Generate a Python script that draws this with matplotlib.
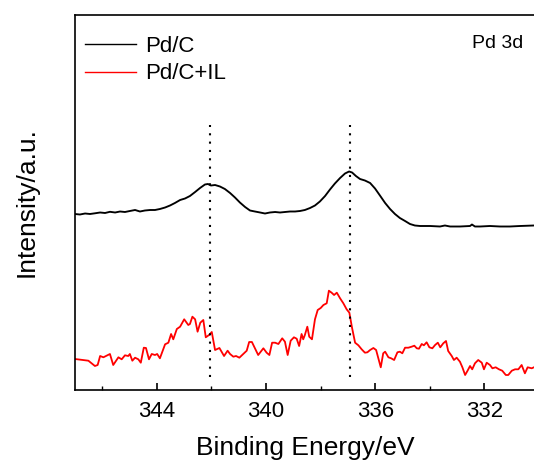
import matplotlib
matplotlib.use("Agg")
import matplotlib.pyplot as plt
from matplotlib.ticker import FixedLocator

plt.rcParams['font.family'] = ['Liberation Sans', 'DejaVu Sans']

# Pd/C spectrum (binding energy in eV, intensity a.u.)
pdc_energy = [347.00, 346.82, 346.63, 346.45, 346.27, 346.08, 345.90, 345.72, 345.53, 345.35,
              345.17, 344.99, 344.80, 344.62, 344.44, 344.25, 344.07, 343.89, 343.70, 343.52,
              343.34, 343.15, 342.97, 342.79, 342.60, 342.42, 342.24, 342.13, 342.02, 341.87,
              341.69, 341.51, 341.32, 341.14, 340.96, 340.77, 340.59, 340.41, 340.22, 340.04,
              339.86, 339.67, 339.49, 339.31, 339.12, 338.94, 338.76, 338.58, 338.39, 338.21,
              338.03, 337.84, 337.66, 337.48, 337.29, 337.11, 336.96, 336.85, 336.71, 336.56,
              336.38, 336.19, 336.01, 335.83, 335.64, 335.46, 335.28, 335.10, 334.91, 334.73,
              334.55, 334.36, 333.99, 333.63, 333.45, 333.26, 332.90, 332.53, 332.46, 332.35,
              332.16, 331.80, 331.43, 331.07, 330.70, 330.19]
pdc_intensity = [176, 175.5, 176.5, 176, 176.7, 177.5, 177, 178.2, 177.5, 178.5,
                 178, 179, 180, 178.5, 179.5, 180, 180, 181, 182.5, 184.5,
                 187, 190, 191.5, 194, 198, 202, 205.5, 206, 204.5, 205,
                 203.5, 201, 197, 192.5, 187.5, 183, 179.5, 178.5, 177.5, 176.5,
                 177.5, 178, 177.5, 178, 178.5, 178.5, 179, 180, 182, 184.5,
                 188.5, 194, 200.5, 206.5, 212, 216.5, 218.5, 217.5, 214, 211,
                 209.5, 207, 201.5, 194.5, 187, 181, 176, 172, 169, 166,
                 164.5, 164, 164, 163.5, 164.5, 163.5, 163.5, 164, 165.5, 163.5,
                 163.5, 164, 163.5, 163.5, 164, 164.5]

# Pd/C+IL spectrum
il_energy = [347.00, 346.70, 346.51, 346.27, 346.17, 346.08, 345.96, 345.72, 345.60, 345.41,
             345.29, 345.17, 345.05, 344.99, 344.90, 344.80, 344.68, 344.59, 344.48, 344.40,
             344.29, 344.19, 344.07, 343.99, 343.89, 343.70, 343.58, 343.48, 343.40, 343.27,
             343.15, 343.00, 342.85, 342.79, 342.70, 342.60, 342.51, 342.41, 342.30, 342.21,
             342.09, 341.99, 341.87, 341.71, 341.54, 341.41, 341.32, 341.20, 341.10, 340.98,
             340.84, 340.71, 340.62, 340.52, 340.41, 340.29, 340.10, 339.98, 339.88, 339.78,
             339.67, 339.55, 339.41, 339.31, 339.21, 339.10, 338.98, 338.88, 338.79, 338.70,
             338.64, 338.58, 338.49, 338.42, 338.32, 338.21, 338.11, 338.00, 337.90, 337.78,
             337.70, 337.60, 337.51, 337.41, 337.29, 337.17, 337.05, 336.95, 336.86, 336.74,
             336.62, 336.50, 336.38, 336.29, 336.19, 336.07, 335.97, 335.89, 335.80, 335.71,
             335.64, 335.52, 335.42, 335.31, 335.19, 335.10, 335.01, 334.91, 334.79, 334.67,
             334.57, 334.48, 334.40, 334.30, 334.22, 334.12, 334.02, 333.91, 333.81, 333.71,
             333.62, 333.51, 333.41, 333.33, 333.20, 333.12, 333.02, 332.90, 332.81, 332.71,
             332.62, 332.53, 332.45, 332.35, 332.23, 332.10, 332.02, 331.92, 331.80, 331.71,
             331.59, 331.47, 331.35, 331.22, 331.13, 331.00, 330.88, 330.76, 330.64, 330.52,
             330.42, 330.27, 330.19]
il_intensity = [31, 30, 29.3, 24, 25, 34, 32.7, 36, 25, 32.7,
                30.7, 34.7, 34, 36, 29.3, 32.3, 30.7, 27.3, 42.3, 42,
                30.7, 36, 35, 36, 31.7, 45.7, 47.3, 56, 50.7, 61,
                63.3, 70.7, 65, 66, 73.3, 70.7, 58.3, 67.3, 70, 52.7,
                55, 58, 40, 42, 34, 39.3, 36, 33.3, 34, 32.3,
                36, 39.3, 48, 48, 41.7, 35, 41.7, 37.3, 35, 47.3,
                47.3, 46, 51.7, 48.3, 35, 49.3, 52.7, 51.3, 44, 56,
                50.7, 55, 63.3, 53.3, 50.7, 70.7, 80, 82, 85, 86.7,
                99.3, 97.3, 95, 97.3, 91.7, 86.7, 80.7, 77.3, 63.3, 47.3,
                44.7, 40.7, 37.3, 37.7, 40, 42, 40, 31.7, 22.7, 36.7,
                38.3, 32.7, 31.7, 30, 37.7, 38.3, 36.7, 42.3, 42.3, 43.3,
                44.3, 41.7, 41.3, 46, 44.7, 47.7, 42.7, 41.7, 45, 47.3,
                42.7, 46.7, 49, 39, 34, 30, 32.3, 28.3, 22.7, 15,
                19.3, 24, 20.7, 26.7, 30, 27.3, 20.7, 27.3, 25, 21.7,
                22.7, 20.7, 19.3, 15, 15, 19.3, 20.7, 20.7, 25, 16.7,
                22.7, 21.7, 22.7]

peak_positions = [342.05, 336.93]
major_ticks = [344, 340, 336, 332]
minor_ticks = [346, 342, 338, 334]
series_labels = ["Pd/C", "Pd/C+IL"]

W, H = 534, 470
fig = plt.figure(figsize=(W / 100, H / 100), dpi=100)
ax = fig.add_axes([75 / W, (H - 390) / H, (536 - 75) / W, 375 / H])

ax.plot(pdc_energy, pdc_intensity, color='black', lw=1.35, label=series_labels[0])
ax.plot(il_energy, il_intensity, color='#ff0000', lw=1.3, label=series_labels[1])
ax.vlines(peak_positions, 13, 265, colors='black', linestyles=(0, (1, 3)), lw=1.5)

ax.set_xlim(347.0, 347.0 - 461 / 27.3)
ax.set_ylim(0, 375)

ax.xaxis.set_major_locator(FixedLocator(major_ticks))
ax.xaxis.set_minor_locator(FixedLocator(minor_ticks))
ax.tick_params(axis='x', which='major', direction='in', length=5, width=1.2,
               labelsize=16, pad=8)
ax.tick_params(axis='x', which='minor', direction='in', length=3, width=1.0)
ax.set_yticks([])
for s in ['left', 'bottom', 'top']:
    ax.spines[s].set_linewidth(1.2)
ax.spines['right'].set_visible(False)

ax.set_xlabel("Binding Energy/eV", fontsize=19, labelpad=10)
ax.set_ylabel("Intensity/a.u.", fontsize=19, labelpad=26)

leg = ax.legend(loc='upper left', bbox_to_anchor=(0.022, 0.945), frameon=False,
                fontsize=16, handlelength=2.3, handletextpad=0.4,
                labelspacing=0.3, borderpad=0, borderaxespad=0)
for line in leg.get_lines():
    line.set_linewidth(1.0)

ax.text(0.972, 0.925, "Pd 3d", transform=ax.transAxes, fontsize=14,
        ha='right', va='center')

fig.savefig("out.png", dpi=100)
